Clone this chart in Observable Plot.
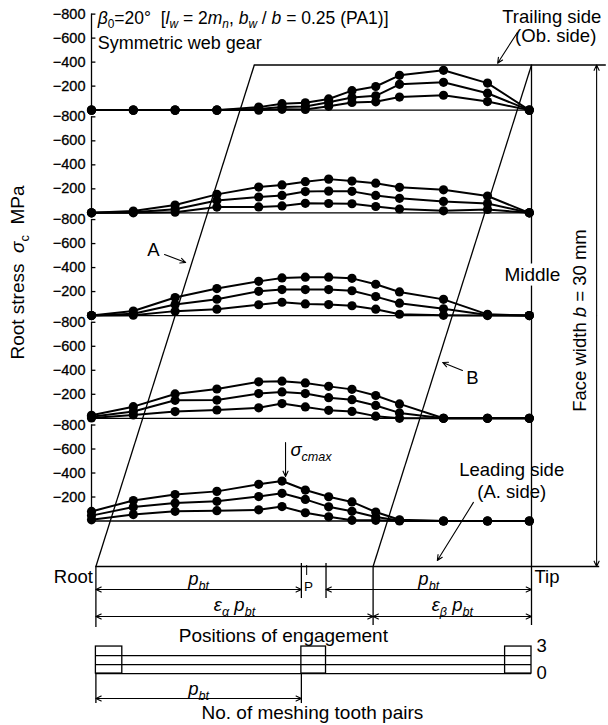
<!DOCTYPE html>
<html><head><meta charset="utf-8">
<script src="https://cdn.jsdelivr.net/npm/d3@7"></script>
<script src="https://cdn.jsdelivr.net/npm/@observablehq/plot@0.6"></script>
<style>body{margin:0;background:#fff}</style>
</head><body><div id="chart"></div>
<script>
// ---------------- data ----------------
// positions of engagement, % of the way from root (0) to tip (100)
const positions = [0, 9.5, 19, 28.5, 38, 43.3, 48.6, 53.9, 59.2, 64.6, 70, 80, 90, 99.5];
const sectionNames = ["Trailing side (Ob. side)", "", "Middle", "", "Leading side (A. side)"];
const loadLevels = ["high", "medium", "low"];
// root stress sigma_c, MPa, one array per face-width section and load level
const section1High = [0, 0, 0, 0, -25, -54, -61, -93, -162, -197, -290, -332, -225, 0];
const section1Mid  = [0, 0, 0, 0, -10, -26, -31, -66, -106, -119, -215, -232, -141, 0];
const section1Low  = [0, 0, 0, 0, 0, -7, -6, -32, -64, -69, -109, -124, -71, 0];
const section2High = [0, -15, -65, -154, -215, -233, -260, -281, -265, -247, -213, -192, -140, 0];
const section2Mid  = [0, -5, -30, -103, -132, -145, -177, -181, -179, -145, -121, -95, -78, 0];
const section2Low  = [0, 0, -5, -48, -49, -58, -79, -78, -76, -53, -32, -17, -28, 0];
const section3High = [0, -38, -150, -225, -285, -314, -320, -320, -310, -261, -197, -135, -10, 0];
const section3Mid  = [0, -15, -92, -136, -202, -217, -217, -217, -207, -158, -103, -57, -5, 0];
const section3Low  = [0, -3, -37, -53, -90, -111, -97, -92, -82, -53, -11, -2, 0, 0];
const section4High = [-25, -97, -203, -244, -304, -309, -295, -266, -241, -190, -120, 0, 0, 0];
const section4Mid  = [-12, -56, -150, -152, -206, -220, -206, -172, -155, -107, -45, 0, 0, 0];
const section4Low  = [-3, -28, -56, -69, -87, -123, -95, -66, -57, -18, 0, 0, 0, 0];
const section5High = [-80, -171, -220, -247, -306, -333, -258, -202, -159, -75, -10, 0, 0, 0];
const section5Mid  = [-45, -116, -150, -164, -204, -231, -180, -118, -81, -33, -5, 0, 0, 0];
const section5Low  = [-10, -54, -81, -86, -93, -120, -69, -35, -6, -6, 0, 0, 0, 0];
const tickValues = [-200, -400, -600, -800];
const tickLabels = ["\u2212200", "\u2212400", "\u2212600", "\u2212800"];
// number of meshing tooth pairs along the engagement
const meshingBreaks = [1, 7, 47.7, 53.3, 94, 100];
const meshingPairs  = [3, 2, 3, 2, 3];

// ---------------- layout (scale units) ----------------
const stressData = [
  [section1High, section1Mid, section1Low],
  [section2High, section2Mid, section2Low],
  [section3High, section3Mid, section3Low],
  [section4High, section4Mid, section4Low],
  [section5High, section5Mid, section5Low]
];
const PANEL_GAP = 856;
const base = k => (4 - k) * PANEL_GAP;
const panels = [0, 1, 2, 3, 4];
const ROOT = 1, TIP = 100, EPS_ALPHA = 64, EPS_BETA_SPAN = 36, PBT_END = 47.7, PBT2_START = 53.3;
const TOP_EDGE = base(0) + 376, BOTTOM_EDGE = -379;
const FACE_X = 114.8;
const T0 = -1271, TSTEP = 75;

const rows = [];
panels.forEach(k => loadLevels.forEach((lv, s) => positions.forEach((x, i) =>
  rows.push({x, y: base(k) - stressData[k][s][i], key: k + "-" + lv}))));
const tickRows = panels.flatMap(k => tickValues.map((v, i) => ({y: base(k) - v, label: tickLabels[i]})));

const dims = [
  {a: ROOT, b: PBT_END, y: -571},
  {a: PBT2_START, b: TIP, y: -571},
  {a: ROOT, b: EPS_ALPHA, y: -796},
  {a: EPS_ALPHA, b: TIP, y: -796},
  {a: ROOT, b: PBT_END, y: -1479}
];
const dimArrows = dims.flatMap(d => {
  const m = (d.a + d.b) / 2;
  return [{x1: m, y1: d.y, x2: d.a, y2: d.y}, {x1: m, y1: d.y, x2: d.b, y2: d.y}];
});
const faceMid = (TOP_EDGE + BOTTOM_EDGE) / 2;
dimArrows.push({x1: FACE_X, y1: faceMid, x2: FACE_X, y2: TOP_EDGE});
dimArrows.push({x1: FACE_X, y1: faceMid, x2: FACE_X, y2: BOTTOM_EDGE});

const pointerArrows = [
  {x1: 96.8, y1: 4071, x2: 92.3, y2: 3815},   // Ob. side
  {x1: 16.6, y1: 2221, x2: 21.4, y2: 2154},   // A
  {x1: 84.3, y1: 1254, x2: 79.8, y2: 1321},   // B
  {x1: 44.1, y1: 654,  x2: 44.1, y2: 371},    // sigma max
  {x1: 86.8, y1: 155,  x2: 78.6, y2: -329}    // A. side
];

const spans3 = [];
meshingPairs.forEach((n, i) => { if (n === 3) spans3.push({x1: meshingBreaks[i], x2: meshingBreaks[i + 1]}); });

const FS = 18.5;
const labels = [
  {x: 1.4, y: 4192, t: "§TITLE", a: "start", s: 17.5},
  {x: 1.4, y: 3985, t: "Symmetric web gear", a: "start", s: 18},
  {x: 104.6, y: 4196, t: "Trailing side", a: "middle", s: FS},
  {x: 105.5, y: 4037, t: "(Ob. side)", a: "middle", s: FS},
  {x: 14.1, y: 2254, t: "A", a: "middle", s: FS},
  {x: 86.6, y: 1187, t: "B", a: "middle", s: FS},
  {x: 45.2, y: 587, t: "§SMAX", a: "start", s: FS},
  {x: 95.5, y: 421, t: "Leading side", a: "middle", s: FS},
  {x: 95.5, y: 237, t: "(A. side)", a: "middle", s: FS},
  {x: ROOT, y: -471, t: "Root", a: "end", s: FS, dx: -3},
  {x: TIP, y: -471, t: "Tip", a: "start", s: FS, dx: 3},
  {x: (ROOT + PBT_END) / 2, y: -487, t: "§PBT", a: "middle", s: FS},
  {x: (PBT2_START + TIP) / 2, y: -487, t: "§PBT", a: "middle", s: FS},
  {x: 49.3, y: -546, t: "P", a: "middle", s: 13.5},
  {x: (ROOT + EPS_ALPHA) / 2, y: -704, t: "§EA", a: "middle", s: FS},
  {x: (EPS_ALPHA + TIP) / 2, y: -704, t: "§EB", a: "middle", s: FS},
  {x: 43.6, y: -954, t: "Positions of engagement", a: "middle", s: 19},
  {x: (ROOT + PBT_END) / 2, y: -1404, t: "§PBT", a: "middle", s: FS},
  {x: 50.2, y: -1596, t: "No. of meshing tooth pairs", a: "middle", s: 19},
  {x: TIP, y: T0 + 3 * TSTEP, t: "3", a: "start", s: FS, dx: 5},
  {x: TIP, y: T0, t: "0", a: "start", s: FS, dx: 5}
];

const ln = {stroke: "black", strokeWidth: 1.3};
const chart = Plot.plot({
  width: 608, height: 725,
  marginTop: 0, marginRight: 0, marginBottom: 0, marginLeft: 0,
  x: {domain: [0, 100], range: [91, 531], axis: null},
  y: {domain: [-1704, 4337.5], range: [725, 0], axis: null},
  style: {fontFamily: "'Liberation Sans', Arial, Helvetica, sans-serif", background: "white", overflow: "visible"},
  marks: [
    // panel frames
    Plot.ruleY(panels, {y: base, x1: 0, x2: 100, ...ln}),
    Plot.ruleX(panels, {x: 0, y1: base, y2: k => base(k) + 800, ...ln}),
    Plot.ruleY(tickRows, {y: "y", x1: 0, x2: 1, ...ln}),
    Plot.text(tickRows, {x: 0, y: "y", text: "label", dx: -6, textAnchor: "end", fontSize: 14.5, fill: "black", stroke: "black", strokeWidth: 0.3}),
    // contact lines A and B, face-width edges
    Plot.link([{x1: ROOT, x2: ROOT + EPS_BETA_SPAN}, {x1: EPS_ALPHA, x2: TIP}], {x1: "x1", x2: "x2", y1: BOTTOM_EDGE, y2: TOP_EDGE, ...ln}),
    Plot.ruleY([TOP_EDGE], {x1: ROOT + EPS_BETA_SPAN, x2: 117, ...ln}),
    Plot.ruleY([BOTTOM_EDGE], {x1: ROOT, x2: 115.5, ...ln}),
    Plot.ruleX([TIP], {y1: -870, y2: TOP_EDGE, ...ln}),
    Plot.ruleX([ROOT], {y1: -887, y2: BOTTOM_EDGE, ...ln}),
    Plot.ruleX([EPS_ALPHA], {y1: -870, y2: BOTTOM_EDGE, ...ln}),
    Plot.ruleX([PBT_END, PBT2_START], {y1: -646, y2: -354, ...ln}),
    Plot.ruleX([48.9], {y1: -454, y2: -371, stroke: "black", strokeWidth: 1}),
    // tooth pair chart
    Plot.ruleY([0, 1, 2], {y: L => T0 + TSTEP * L, x1: ROOT, x2: TIP, ...ln}),
    Plot.rect(spans3, {x1: "x1", x2: "x2", y1: T0, y2: T0 + 3 * TSTEP, fill: "none", ...ln}),
    Plot.ruleX([ROOT, PBT_END], {y1: -1521, y2: T0, ...ln}),
    // dimension & pointer arrows
    Plot.arrow(dimArrows, {x1: "x1", y1: "y1", x2: "x2", y2: "y2", stroke: "black", strokeWidth: 1.1, headLength: 8, headAngle: 50}),
    Plot.arrow(pointerArrows, {x1: "x1", y1: "y1", x2: "x2", y2: "y2", stroke: "black", strokeWidth: 1.1, headLength: 8, headAngle: 50}),
    // data
    Plot.line(rows, {x: "x", y: "y", z: "key", stroke: "black", strokeWidth: 2}),
    Plot.dot(rows, {x: "x", y: "y", r: 4.6, fill: "black"}),
    // text
    Plot.text(["Middle"], {x: 100.2, y: 2054, text: d => d, fontSize: 19, fill: "black", stroke: "white", strokeWidth: 9}),
    Plot.text(["§FACE"], {x: 111.1, y: 1671, text: d => d, rotate: -90, fontSize: 18.5, fill: "black"}),
    Plot.text(["§YLAB"], {x: -16.8, y: 2071, text: d => d, rotate: -90, fontSize: 19, fill: "black"}),
    ...labels.map(l => Plot.text([l], {x: "x", y: "y", text: "t", textAnchor: l.a, fontSize: l.s, dx: l.dx || 0, fill: "black"}))
  ]
});
document.getElementById("chart").appendChild(chart);

// rich text (italics, subscripts)
const RICH = {
  "§TITLE": [["\u03B2", "i"], ["0", "sub"], ["=20\u00B0  [", ""], ["l", "i"], ["w", "subi"], [" = 2", ""], ["m", "i"], ["n", "subi"], [", ", ""], ["b", "i"], ["w", "subi"], [" / ", ""], ["b", "i"], [" = 0.25 (PA1)]", ""]],
  "§SMAX": [["\u03C3", "i"], ["cmax", "subi"]],
  "§PBT": [["p", "i"], ["bt", "subi"]],
  "§EA": [["\u03B5", "i"], ["\u03B1", "subi"], [" p", "i"], ["bt", "subi"]],
  "§EB": [["\u03B5", "i"], ["\u03B2", "subi"], [" p", "i"], ["bt", "subi"]],
  "§FACE": [["Face width ", ""], ["b", "i"], [" = 30 mm", ""]],
  "§YLAB": [["Root stress  ", ""], ["\u03C3", "i"], ["c", "sub"], ["  MPa", ""]]
};
chart.querySelectorAll("text").forEach(el => {
  const key = el.textContent;
  if (!(key in RICH)) return;
  const fs = parseFloat(getComputedStyle(el).fontSize) || 17;
  while (el.firstChild) el.removeChild(el.firstChild);
  let cur = 0;
  for (const [str, st] of RICH[key]) {
    const ts = document.createElementNS("http://www.w3.org/2000/svg", "tspan");
    ts.textContent = str;
    const sub = st.indexOf("sub") >= 0;
    if (st.indexOf("i") >= 0) ts.setAttribute("font-style", "italic");
    if (sub) ts.setAttribute("font-size", (fs * 0.68).toFixed(1));
    const target = sub ? fs * 0.26 : 0;
    if (target !== cur) { ts.setAttribute("dy", (target - cur).toFixed(2)); cur = target; }
    el.appendChild(ts);
  }
});
</script>
</body></html>
